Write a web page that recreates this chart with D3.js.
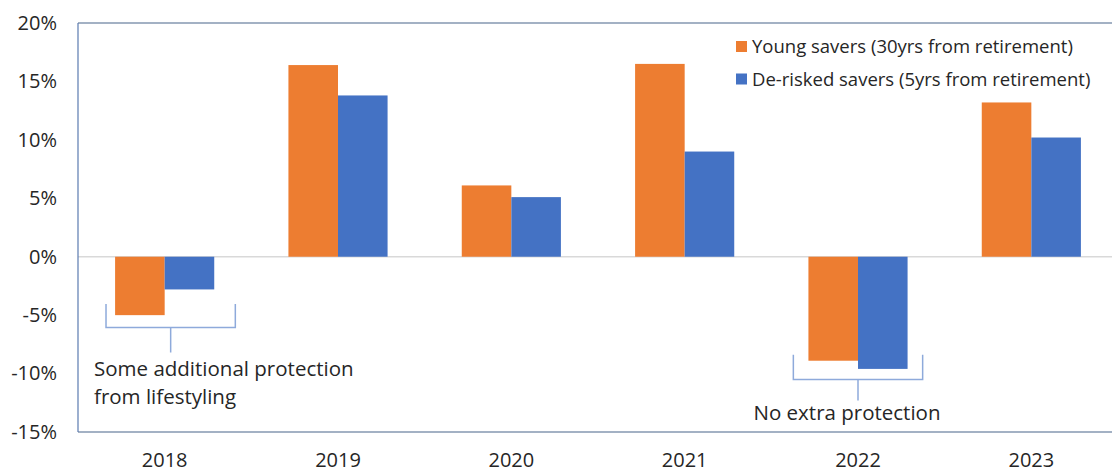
<!DOCTYPE html>
<meta charset="utf-8">
<style>
  body { margin: 0; background: #fff; }
  text { font-family: "Open Sans", sans-serif; fill: #262626; }
  .tick text { font-size: 20px; }
  .note { font-size: 20.5px; }
  .bracket { fill: none; stroke: #8eaadb; stroke-width: 1.5px; }
</style>
<body>
<div id="chart"></div>
<script src="https://d3js.org/d3.v7.min.js"></script>
<script>

// data (percent)
var years = ["2018", "2019", "2020", "2021", "2022", "2023"];
var seriesNames = ["Young savers (30yrs from retirement)", "De-risked savers (5yrs from retirement)"];
var young = [-5.0, 16.4, 6.1, 16.5, -8.9, 13.2];
var derisked = [-2.8, 13.8, 5.1, 9.0, -9.6, 10.2];
var yTicks = [-15, -10, -5, 0, 5, 10, 15, 20];
var colors = ["#ED7D31", "#4472C4"];

var width = 1112, height = 474;
var plot = {left: 78, right: 1118, top: 23, bottom: 432};

var svg = d3.select("#chart").append("svg")
  .attr("width", width)
  .attr("height", height);

var y = d3.scaleLinear().domain([-15, 20]).range([plot.bottom, plot.top]);

var x0 = d3.scaleBand().domain(years)
  .range([plot.left, plot.right])
  .paddingInner(0.428)
  .paddingOuter(0.214);

var x1 = d3.scaleBand().domain([0, 1]).range([0, x0.bandwidth()]);

// zero line
svg.append("line")
  .attr("x1", plot.left).attr("x2", width)
  .attr("y1", y(0)).attr("y2", y(0))
  .attr("stroke", "#d9d9d9").attr("stroke-width", 1.5);

// bars
var rows = years.map(function(yr, i) { return {year: yr, vals: [young[i], derisked[i]]}; });

var groups = svg.selectAll("g.grp")
  .data(rows)
  .enter().append("g")
  .attr("class", "grp")
  .attr("transform", function(d) { return "translate(" + x0(d.year) + ",0)"; });

groups.selectAll("rect")
  .data(function(d) { return d.vals.map(function(v, k) { return {k: k, v: v}; }); })
  .enter().append("rect")
  .attr("x", function(d) { return x1(d.k); })
  .attr("width", x1.bandwidth())
  .attr("y", function(d) { return y(Math.max(0, d.v)); })
  .attr("height", function(d) { return Math.abs(y(d.v) - y(0)); })
  .attr("fill", function(d) { return colors[d.k]; });

// plot frame
svg.append("line")
  .attr("x1", plot.left).attr("x2", width)
  .attr("y1", plot.top).attr("y2", plot.top)
  .attr("stroke", "#8497b0").attr("stroke-width", 1.5);
svg.append("line")
  .attr("x1", plot.left).attr("x2", width)
  .attr("y1", plot.bottom).attr("y2", plot.bottom)
  .attr("stroke", "#8497b0").attr("stroke-width", 1.5);
svg.append("line")
  .attr("x1", plot.left).attr("x2", plot.left)
  .attr("y1", plot.top).attr("y2", plot.bottom)
  .attr("stroke", "#5b7bb0").attr("stroke-width", 1.2);

// y axis labels
var yAxis = d3.axisLeft(y).tickValues(yTicks)
  .tickSize(0).tickPadding(21)
  .tickFormat(function(d) { return d + "%"; });
var gy = svg.append("g").attr("transform", "translate(" + plot.left + ",0)").call(yAxis);
gy.select(".domain").remove();
gy.selectAll("text").attr("font-family", null).attr("font-size", null);

// x axis labels
var xAxis = d3.axisBottom(x0).tickSize(0).tickPadding(21);
var gx = svg.append("g").attr("transform", "translate(0," + plot.bottom + ")").call(xAxis);
gx.select(".domain").remove();
gx.selectAll("text").attr("font-family", null).attr("font-size", null);

// legend
var legend = svg.selectAll("g.leg")
  .data(seriesNames)
  .enter().append("g")
  .attr("class", "leg")
  .attr("transform", function(d, i) { return "translate(736," + (41 + i * 32.5) + ")"; });
legend.append("rect").attr("width", 11).attr("height", 11)
  .attr("fill", function(d, i) { return colors[i]; });
legend.append("text").attr("class", "note")
  .attr("x", 16).attr("y", 12)
  .style("font-size", "18.5px")
  .text(function(d) { return d; });

// annotation brackets
function bracket(year, shift, top, bot, stem) {
  var cx = x0(year) + x0.bandwidth() / 2 + shift;
  var half = x0.step() * 0.373;
  var p = d3.path();
  p.moveTo(cx - half, top); p.lineTo(cx - half, bot); p.lineTo(cx + half, bot); p.lineTo(cx + half, top);
  p.moveTo(cx, bot); p.lineTo(cx, stem);
  svg.append("path").attr("class", "bracket").attr("d", p.toString());
  return cx;
}

bracket("2018", 6, y(-4.05), y(-6.05), y(-8.2));
svg.append("text").attr("class", "note").attr("x", 94).attr("y", 376).text("Some additional protection");
svg.append("text").attr("class", "note").attr("x", 94).attr("y", 404).text("from lifestyling");

var c22 = bracket("2022", 0, y(-8.4), y(-10.5), y(-12.3));
svg.append("text").attr("class", "note").attr("x", c22 - 11).attr("y", 420)
  .attr("text-anchor", "middle").text("No extra protection");

</script>
</body>
